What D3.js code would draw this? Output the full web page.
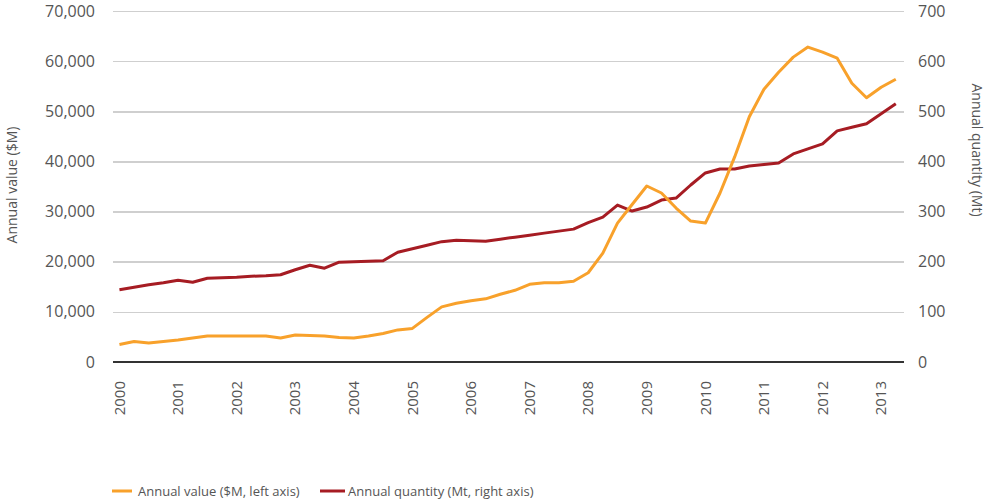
<!DOCTYPE html>
<head>
<meta charset="utf-8">
<style>
body { margin: 0; background: #fff; }
text { font-family: "Open Sans", sans-serif; fill: #555; }
.grid line { stroke: #cfcfcf; stroke-width: 1.5px; shape-rendering: crispEdges; }
.grid path { display: none; }
.zero { stroke: #333; stroke-width: 2px; }
.line { fill: none; stroke-width: 3px; stroke-linejoin: round; }
</style>
<script src="https://cdn.jsdelivr.net/npm/d3@7"></script>
</head>
<body>
<script>
// quarterly observations, 2000 Q1 .. 2013 Q2
var valueSeries = [3500, 4100, 3800, 4100, 4400, 4800, 5200, 5200, 5200, 5200,
  5200, 4800, 5400, 5300, 5200, 4900, 4800, 5200, 5700, 6400,
  6700, 8900, 11000, 11700, 12200, 12600, 13500, 14300, 15500, 15800,
  15800, 16100, 17800, 21700, 27700, 31400, 35100, 33700, 30700, 28100,
  27700, 33700, 40900, 48900, 54400, 57800, 60800, 62800, 61800, 60600,
  55600, 52700, 54800, 56400];
var quantitySeries = [144, 149, 154, 158, 163, 159, 167, 168, 169, 171,
  172, 174, 184, 193, 187, 199, 200, 201, 202, 219,
  226, 233, 240, 243, 242, 241, 245, 249, 253, 257,
  261, 265, 278, 289, 313, 301, 309, 323, 327, 353,
  377, 385, 385, 391, 394, 397, 415, 425, 435, 461,
  468, 475, 495, 515];
var periods = d3.range(valueSeries.length).map(function(i) { return 2000 + i / 4; });
var yearTicks = d3.range(2000, 2014);
var leftTicks = [0, 10000, 20000, 30000, 40000, 50000, 60000, 70000];
var rightTicks = [0, 100, 200, 300, 400, 500, 600, 700];
var seriesNames = ["Annual value ($M, left axis)", "Annual quantity (Mt, right axis)"];
var colors = ["#f8a12b", "#a61c23"];

var W = 987, H = 499,
    plotLeft = 113, plotRight = 904, plotTop = 11, plotBottom = 362;

var x = d3.scaleLinear().domain([1999.89, 2013.39]).range([plotLeft, plotRight]);
var yL = d3.scaleLinear().domain([0, 70000]).range([plotBottom, plotTop]);
var yR = d3.scaleLinear().domain([0, 700]).range([plotBottom, plotTop]);

var svg = d3.select("body").append("svg")
    .attr("width", W).attr("height", H);

// gridlines
svg.append("g")
    .attr("class", "grid")
    .attr("transform", "translate(" + plotLeft + ",0)")
    .call(d3.axisLeft(yL).tickValues(leftTicks.slice(1)).tickSize(-(plotRight - plotLeft)).tickFormat(""));

svg.append("line")
    .attr("class", "zero")
    .attr("x1", plotLeft).attr("x2", plotRight)
    .attr("y1", yL(0)).attr("y2", yL(0));

// left tick labels
svg.append("g").selectAll("text")
    .data(leftTicks)
  .enter().append("text")
    .attr("x", 95)
    .attr("y", function(d) { return yL(d); })
    .attr("dy", "0.35em")
    .attr("text-anchor", "end")
    .style("font-size", "16px")
    .text(function(d) { return d3.format(",")(d); });

// right tick labels
svg.append("g").selectAll("text")
    .data(rightTicks)
  .enter().append("text")
    .attr("x", 918)
    .attr("y", function(d) { return yR(d); })
    .attr("dy", "0.35em")
    .style("font-size", "16px")
    .text(function(d) { return d; });

// x tick labels, rotated
svg.append("g").selectAll("text")
    .data(yearTicks)
  .enter().append("text")
    .attr("transform", function(d) { return "translate(" + x(d) + ",381) rotate(-90)"; })
    .attr("dy", "0.35em")
    .attr("text-anchor", "end")
    .style("font-size", "15px")
    .text(function(d) { return d; });

// axis titles
svg.append("text")
    .attr("transform", "translate(12,185) rotate(-90)")
    .attr("text-anchor", "middle")
    .attr("dy", "0.35em")
    .style("font-size", "14px")
    .text("Annual value ($M)");

svg.append("text")
    .attr("transform", "translate(977,150) rotate(90)")
    .attr("text-anchor", "middle")
    .attr("dy", "0.35em")
    .style("font-size", "14px")
    .text("Annual quantity (Mt)");

// lines
var valueLine = d3.line()
    .x(function(d, i) { return x(periods[i]); })
    .y(function(d) { return yL(d); });
var quantityLine = d3.line()
    .x(function(d, i) { return x(periods[i]); })
    .y(function(d) { return yR(d); });

svg.append("path")
    .datum(quantitySeries)
    .attr("class", "line")
    .attr("d", quantityLine)
    .style("stroke", colors[1]);

svg.append("path")
    .datum(valueSeries)
    .attr("class", "line")
    .attr("d", valueLine)
    .style("stroke", colors[0]);

// legend
var legendX = [112, 320];
var legend = svg.append("g").selectAll("g")
    .data(seriesNames)
  .enter().append("g")
    .attr("transform", function(d, i) { return "translate(" + legendX[i] + ",491)"; });

legend.append("line")
    .attr("x1", 0).attr("x2", function(d, i) { return i ? 25 : 20; })
    .attr("stroke-width", 3)
    .attr("stroke", function(d, i) { return colors[i]; });

legend.append("text")
    .attr("x", function(d, i) { return i ? 28 : 26; })
    .attr("dy", "0.35em")
    .style("font-size", "13px")
    .text(function(d) { return d; });
</script>
</body>
